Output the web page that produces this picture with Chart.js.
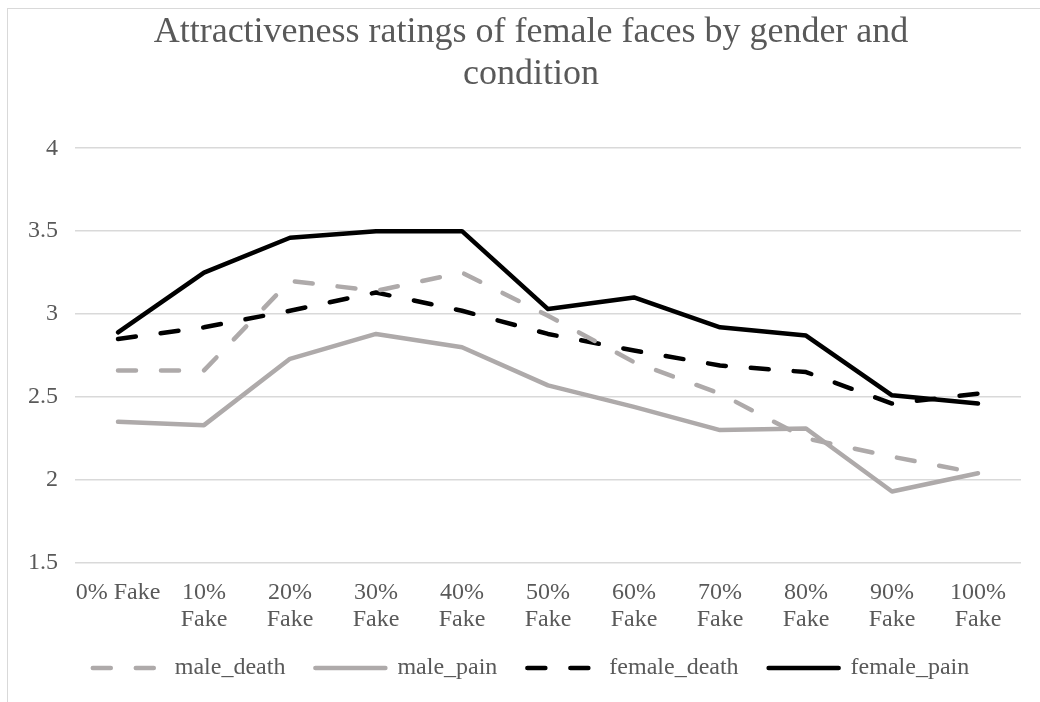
<!DOCTYPE html>
<html>
<head>
<meta charset="utf-8">
<script src="https://cdn.jsdelivr.net/npm/chart.js@4/dist/chart.umd.min.js"></script>
<style>
    html, body { margin: 0; padding: 0; background: #fff; }
    .wrap { position: relative; width: 1040px; height: 702px; overflow: hidden; }
    .frame { position: absolute; left: 7px; top: 8px; width: 1200px; height: 900px; border: 1px solid #d9d9d9; }
    canvas { position: absolute; left: 0; top: 0; }
</style>
</head>
<body>
<div class="wrap">
    <div class="frame"></div>
    <canvas id="ratingsChart" width="1040" height="702"></canvas>
</div>
<script>
// Tick labels (x axis)
const categories = [
    ["0% Fake"], ["10%", "Fake"], ["20%", "Fake"], ["30%", "Fake"], ["40%", "Fake"],
    ["50%", "Fake"], ["60%", "Fake"], ["70%", "Fake"], ["80%", "Fake"], ["90%", "Fake"], ["100%", "Fake"]
];

// Series values
const maleDeath   = [2.66, 2.66, 3.20, 3.14, 3.25, 2.99, 2.71, 2.52, 2.25, 2.14, 2.04];
const malePain    = [2.35, 2.33, 2.73, 2.88, 2.80, 2.57, 2.44, 2.30, 2.31, 1.93, 2.04];
const femaleDeath = [2.85, 2.92, 3.02, 3.13, 3.02, 2.88, 2.78, 2.69, 2.65, 2.46, 2.52];
const femalePain  = [2.89, 3.25, 3.46, 3.50, 3.50, 3.03, 3.10, 2.92, 2.87, 2.51, 2.46];

const GREY = "#AEAAAA";
const BLACK = "#000000";
const TEXT = "#595959";
const SERIF = "'Liberation Serif', 'Times New Roman', serif";
const LEGEND_Y = 668;
const SHIFT_X = 15; // title and legend sit a bit right of the plot centre

function series(label, data, color, dashed) {
    return {
        label: label,
        data: data,
        borderColor: color,
        backgroundColor: color,
        borderWidth: 4.5,
        borderDash: dashed ? [18, 25] : [],
        borderCapStyle: "round",
        borderJoinStyle: "round",
        pointRadius: 0,
        pointHoverRadius: 0,
        tension: 0,
        fill: false
    };
}

// nudge the legend row and title to sit where the original has them
const layoutNudge = {
    id: "layoutNudge",
    afterLayout(chart) {
        const lg = chart.legend;
        const dy = LEGEND_Y - (lg.top + lg.options.labels.padding + 12);
        lg.top += dy;
        lg.bottom += dy;
        lg.left += SHIFT_X;
        lg.right += SHIFT_X;
        const t = chart.titleBlock;
        t.left += SHIFT_X;
        t.right += SHIFT_X;
    }
};

document.addEventListener("DOMContentLoaded", function () {
    const ctx = document.getElementById("ratingsChart").getContext("2d");
    new Chart(ctx, {
        type: "line",
        data: {
            labels: categories,
            datasets: [
                series("male_death", maleDeath, GREY, true),
                series("male_pain", malePain, GREY, false),
                series("female_death", femaleDeath, BLACK, true),
                series("female_pain", femalePain, BLACK, false)
            ]
        },
        plugins: [layoutNudge],
        options: {
            responsive: false,
            animation: false,
            layout: {
                padding: { left: 11, right: 19, top: 0, bottom: -11 }
            },
            plugins: {
                title: {
                    display: true,
                    text: ["Attractiveness ratings of female faces by gender and", "condition"],
                    color: TEXT,
                    font: { family: SERIF, size: 36, weight: "normal", lineHeight: 1.17 },
                    padding: { top: 11, bottom: 53 }
                },
                legend: {
                    position: "bottom",
                    labels: {
                        color: TEXT,
                        font: { family: SERIF, size: 24 },
                        usePointStyle: true,
                        pointStyle: "line",
                        pointStyleWidth: 70,
                        boxHeight: 24,
                        padding: 30,
                        // keep the dash pattern of each line in its legend sample
                        generateLabels: function (chart) {
                            const items = Chart.defaults.plugins.legend.labels.generateLabels(chart);
                            items.forEach(item => {
                                const ds = chart.data.datasets[item.datasetIndex];
                                item.lineDash = ds.borderDash;
                                item.lineCap = "round";
                                item.lineWidth = 4.5;
                                item.strokeStyle = ds.borderColor;
                            });
                            return items;
                        }
                    }
                },
                tooltip: { enabled: false }
            },
            scales: {
                x: {
                    offset: true,
                    grid: { display: false, drawTicks: false },
                    border: { display: false },
                    ticks: {
                        color: TEXT,
                        font: { family: SERIF, size: 24, lineHeight: 1.13 },
                        padding: 16,
                        maxRotation: 0,
                        autoSkip: false
                    }
                },
                y: {
                    min: 1.5,
                    max: 4,
                    grid: { color: "#D9D9D9", lineWidth: 1.5, drawTicks: false },
                    border: { display: false },
                    ticks: {
                        stepSize: 0.5,
                        color: TEXT,
                        font: { family: SERIF, size: 24 },
                        padding: 17,
                        callback: function (value) {
                            return String(Number(value));
                        }
                    }
                }
            }
        }
    });
});
</script>
</body>
</html>
